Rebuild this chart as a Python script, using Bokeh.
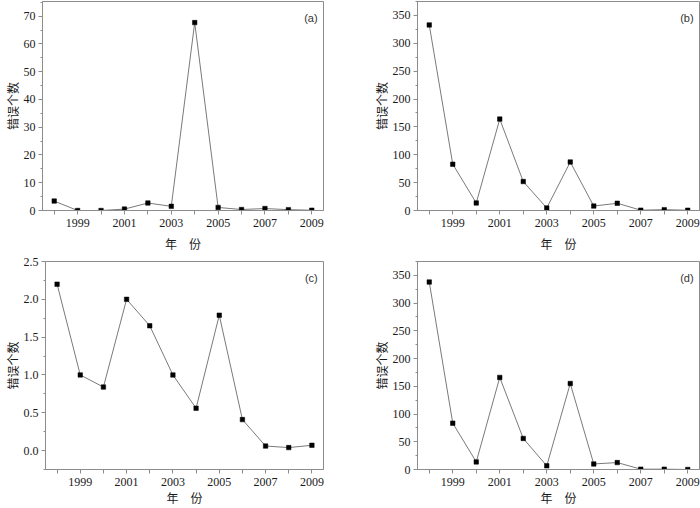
from bokeh.plotting import figure
from bokeh.models import FixedTicker, SingleIntervalTicker, Label, PrintfTickFormatter, Range1d
from bokeh.layouts import column, row
from bokeh.embed import file_html
from bokeh.resources import INLINE

years = [1998, 1999, 2000, 2001, 2002, 2003, 2004, 2005, 2006, 2007, 2008, 2009]
err_a = [3.4, 0.0, 0.0, 0.5, 2.7, 1.5, 67.7, 1.1, 0.35, 0.7, 0.3, 0.1]
err_b = [333, 83, 13.5, 164, 52, 4.5, 87, 8, 13, 0.6, 1.5, 0.5]
err_c = [2.20, 1.00, 0.84, 2.00, 1.65, 1.00, 0.56, 1.79, 0.41, 0.06, 0.04, 0.07]
err_d = [338, 83.5, 13.7, 166, 56, 6.6, 155, 10, 12.5, 0.6, 0.6, 0.0]
x_major = [1999, 2001, 2003, 2005, 2007, 2009]
x_minor = [1998, 2000, 2002, 2004, 2006, 2008]
panel_labels = ["(a)", "(b)", "(c)", "(d)"]
x_title = "年\u3000份"
y_title = "错误个数"

GRAY = "#8c8c8c"
SERIF = "Liberation Serif"
CJK = "Noto Sans CJK SC"


def make_panel(values, y0, y1, interval, fmt, label, width, height, bl, br, bt, bb, xstand):
    p = figure(width=width, height=height, output_backend="svg", toolbar_location=None,
               x_range=Range1d(1997.5, 2009.5), y_range=Range1d(y0, y1),
               min_border_left=bl, min_border_right=br, min_border_top=bt, min_border_bottom=bb)
    p.background_fill_color = "white"
    p.border_fill_color = "white"
    p.outline_line_color = GRAY
    p.outline_line_width = 1
    p.grid.visible = False

    p.line(years, values, line_color="#7a7a7a", line_width=1)
    p.scatter(years, values, marker="square", size=4.5, fill_color="black",
              line_color="black", line_width=0.5)

    xa = p.xaxis[0]
    xa.ticker = FixedTicker(ticks=x_major, minor_ticks=x_minor)
    xa.major_tick_out = 4
    xa.major_tick_in = 0
    xa.minor_tick_out = 4
    xa.minor_tick_in = 0
    xa.major_label_standoff = 4
    xa.axis_label = x_title
    xa.axis_label_standoff = xstand

    ya = p.yaxis[0]
    ya.ticker = SingleIntervalTicker(interval=interval, num_minor_ticks=2)
    ya.formatter = PrintfTickFormatter(format=fmt)
    ya.major_tick_out = 4
    ya.major_tick_in = 0
    ya.minor_tick_out = 2
    ya.minor_tick_in = 0
    ya.axis_label = y_title
    ya.major_label_standoff = 3
    ya.axis_label_standoff = 0

    for ax in (xa, ya):
        ax.axis_line_color = GRAY
        ax.major_tick_line_color = GRAY
        ax.minor_tick_line_color = GRAY
        ax.major_label_text_font = SERIF
        ax.major_label_text_font_size = "12px"
        ax.major_label_text_color = "#1a1a1a"
        ax.axis_label_text_font = CJK
        ax.axis_label_text_font_size = "12px"
        ax.axis_label_text_font_style = "normal"
        ax.axis_label_text_color = "#1a1a1a"

    p.add_layout(Label(x=2009.25, y=y1 - 0.08 * (y1 - y0), text=label,
                       text_align="right", text_baseline="middle",
                       text_font="Liberation Sans", text_font_size="11px",
                       text_color="#333333"))
    return p


pa = make_panel(err_a, 0, 75.3, 10, "%d", panel_labels[0], 350, 254, 40, 27, 1, 44, 5)
pb = make_panel(err_b, 0, 375, 50, "%d", panel_labels[1], 350, 254, 67, 1, 1, 44, 5)
pc = make_panel(err_c, -0.25, 2.5, 0.5, "%.1f", panel_labels[2], 350, 254, 40, 27, 7, 39, 0)
pd = make_panel(err_d, 0, 375, 50, "%d", panel_labels[3], 350, 254, 67, 1, 7, 39, 0)

layout = column(row(pa, pb, spacing=0), row(pc, pd, spacing=0), spacing=0)
open("out.html", "w").write(file_html(layout, INLINE))
